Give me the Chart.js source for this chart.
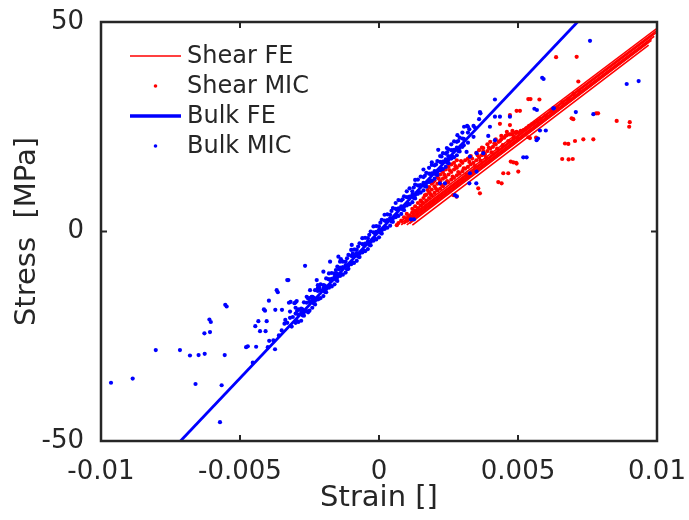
<!DOCTYPE html>
<html>
<head>
	<title>Stress vs Strain</title>
	<script src="https://cdn.jsdelivr.net/npm/chart.js"></script>
	<style>
		body{
			margin: 0;
			background: #ffffff;
		}
		#wrap{
			width: 689px;
			height: 520px;
		}
	</style>
</head>
<body>
	<div id="wrap">
		<canvas id="chart1"></canvas>
	</div>
	<script>
		// axis ticks
		var strainTicks = [-0.01, -0.005, 0, 0.005, 0.01];
		var stressTicks = [-50, 0, 50];
		var legendLabels = ['Shear FE', 'Shear MIC', 'Bulk FE', 'Bulk MIC'];

		// FE fits, [strain, stress] end points
		var bulkFe = [[-0.00714, -50], [0.00714, 50]];
		var shearFe = [
			[[0.0007, 2.0], [0.0100, 48.5]],
			[[0.0008, 2.0], [0.0100, 48.0]],
			[[0.0009, 2.4], [0.0100, 47.6]],
			[[0.0008, 1.6], [0.0099, 47.2]],
			[[0.0009, 1.8], [0.0099, 46.6]],
			[[0.0010, 2.2], [0.0098, 46.0]],
			[[0.0010, 1.6], [0.0098, 45.6]],
			[[0.0011, 1.9], [0.0097, 45.2]],
			[[0.0011, 2.4], [0.0096, 44.8]],
			[[0.0012, 1.5], [0.0097, 44.5]]
		];

		// MIC measurements, [strain, stress]
		var bulkMic = [
			[-0.00964,-36.1],[-0.00886,-35.1],[-0.00803,-28.3],[-0.00716,-28.3],[-0.0068,-29.6],[-0.00649,-29.5],
			[-0.00627,-29.2],[-0.0066,-36.4],[-0.00566,-36.7],[-0.00572,-45.5],[-0.00555,-29.5],[-0.00628,-24.3],
			[-0.00608,-24.0],[-0.00605,-21.6],[-0.0061,-21.0],[-0.00553,-17.5],[-0.00548,-17.9],[-0.00478,-27.6],
			[-0.00472,-27.4],[-0.00442,-27.5],[-0.00454,-31.3],[-0.00445,-22.6],[-0.00434,-21.4],[-0.00428,-23.8],
			[-0.00408,-23.8],[-0.00404,-21.4],[-0.00414,-18.6],[-0.0041,-18.9],[-0.00396,-16.5],[-0.00373,-18.7],
			[-0.00395,-26.1],[-0.00374,-28.1],[-0.00368,-14.0],[-0.00364,-14.5],[-0.0033,-11.6],[-0.00326,-11.6],
			[-0.00266,-8.2],[-0.00176,-7.2],[-0.00349,-18.7],[-0.00337,-21.1],[-0.0032,-19.1],[-0.00324,-17.0],
			[-0.00318,-16.8],[-0.00314,-22.7],[-0.00304,-17.1],[-0.003,-16.9],[-0.00296,-16.6],[-0.00248,-14.0],
			[-0.00242,-15.6],[-0.00224,-11.6],[-0.0022,-13.5],[-0.002,-9.6],[-0.00186,-13.2],[-0.00181,-11.4],
			[-0.00152,-10.0],[-0.00144,-9.0],[-0.00146,-6.0],[-0.00137,-6.6],[-0.00098,-3.2],[-0.00094,-5.2],
			[-0.00086,-4.3],
			[-0.0040,-27.6],[-0.0038,-26.0],[-0.0036,-24.8],[-0.0035,-23.6],[-0.0034,-22.0],[-0.0033,-21.8],
			[-0.0032,-20.6],[-0.0031,-20.4],
			[-0.0030,-19.6],[-0.0030,-21.8],[-0.0030,-18.2],[-0.0029,-21.6],[-0.0029,-19.9],[-0.0029,-18.6],
			[-0.0028,-19.2],[-0.0028,-21.3],[-0.0028,-18.4],[-0.0027,-16.9],[-0.0027,-19.3],[-0.0027,-20.1],
			[-0.0026,-17.0],[-0.0026,-19.0],[-0.0026,-15.6],[-0.0025,-18.9],[-0.0025,-16.8],[-0.0025,-15.9],
			[-0.0024,-16.4],[-0.0024,-18.2],[-0.0024,-15.6],[-0.0023,-14.0],[-0.0023,-16.5],[-0.0023,-17.4],
			[-0.0022,-14.2],[-0.0022,-16.2],[-0.0022,-12.8],[-0.0021,-15.9],[-0.0021,-14.1],[-0.0021,-12.6],
			[-0.0020,-13.6],[-0.0020,-15.4],[-0.0020,-12.8],[-0.0019,-11.2],[-0.0019,-13.7],[-0.0019,-14.5],
			[-0.0018,-11.4],[-0.0018,-13.4],[-0.0018,-10.0],[-0.0017,-13.1],[-0.0017,-11.3],[-0.0017,-9.9],
			[-0.0016,-10.8],[-0.0016,-12.6],[-0.0016,-10.0],[-0.0015,-8.4],[-0.0015,-10.9],[-0.0015,-11.8],
			[-0.0014,-8.6],[-0.0014,-10.6],[-0.0014,-7.2],[-0.0013,-10.3],[-0.0013,-8.5],[-0.0013,-7.2],
			[-0.0012,-8.0],[-0.0012,-9.8],[-0.0012,-7.2],[-0.0011,-5.6],[-0.0011,-8.1],[-0.0011,-8.9],
			[-0.0010,-5.8],[-0.0010,-7.8],[-0.0010,-4.4],[-0.0009,-7.5],[-0.0009,-5.7],[-0.0009,-4.3],
			[-0.0008,-5.2],[-0.0008,-7.0],[-0.0008,-4.4],[-0.0007,-2.8],[-0.0007,-5.3],[-0.0007,-6.1],
			[-0.0006,-3.0],[-0.0006,-5.0],[-0.0006,-1.6],[-0.0005,-4.7],[-0.0005,-2.9],[-0.0005,-1.5],
			[-0.0004,-2.4],[-0.0004,-4.2],[-0.0004,-1.6],[-0.0003,0.0],[-0.0003,-2.5],[-0.0003,-3.3],
			[-0.0002,-0.2],[-0.0002,-2.2],[-0.0002,1.2],[-0.0001,-1.9],[-0.0001,-0.1],[-0.0001,1.3],
			[0.0000,0.4],[0.0000,-1.4],[0.0000,1.2],[0.0001,2.8],[0.0001,0.3],[0.0001,-0.5],
			[0.0002,2.6],[0.0002,0.6],[0.0002,4.0],[0.0003,0.9],[0.0003,2.7],[0.0003,4.1],
			[0.0004,3.2],[0.0004,1.4],[0.0004,4.0],[0.0005,5.6],[0.0005,3.1],[0.0005,2.3],
			[0.0006,5.4],[0.0006,3.4],[0.0006,6.8],[0.0007,3.7],[0.0007,5.5],[0.0007,7.5],
			[0.0008,6.0],[0.0008,4.2],[0.0008,7.4],[0.0009,8.4],[0.0009,5.9],[0.0009,5.1],
			[0.0010,8.2],[0.0010,6.2],[0.0010,9.6],[0.0011,6.5],[0.0011,8.3],[0.0011,10.3],
			[0.0012,8.8],[0.0012,7.0],[0.0012,9.6],[0.0013,11.2],[0.0013,8.7],[0.0013,7.9],
			[0.0014,11.0],[0.0014,9.0],[0.0014,12.4],[0.0015,9.3],[0.0015,11.1],[0.0015,13.1],
			[0.0016,11.6],[0.0016,9.8],[0.0016,13.0],[0.0017,14.0],[0.0017,11.5],[0.0017,10.7],
			[0.0018,13.8],[0.0018,11.8],[0.0018,15.2],[0.0019,12.1],[0.0019,13.9],[0.0019,15.9],
			[0.0020,14.4],[0.0020,12.6],[0.0020,15.8],[0.0021,16.8],[0.0021,14.3],[0.0021,13.5],
			[0.0022,16.6],[0.0022,14.6],[0.0022,18.0],[0.0023,14.9],[0.0023,16.7],[0.0023,18.7],
			[0.0024,17.2],[0.0024,15.4],[0.0024,18.6],[0.0025,19.6],[0.0025,17.1],[0.0025,16.3],
			[0.0026,19.4],[0.0026,17.4],[0.0026,20.8],[0.0027,17.7],[0.0027,19.5],[0.0027,21.5],
			[0.0028,20.0],[0.0028,18.2],[0.0028,21.4],[0.0029,22.4],[0.0029,19.9],[0.0029,19.1],
			[0.0030,22.2],[0.0030,20.2],[0.0030,23.6],[0.0032,23.6],[0.0032,21.2],[0.0032,25.0],
			[0.0034,25.2],[0.0034,22.6],[0.0036,26.8],
			[-0.00295,-19.0],[-0.00295,-21.4],[-0.00275,-18.6],[-0.00275,-20.0],[-0.00255,-16.0],[-0.00255,-19.3],
			[-0.00235,-15.8],[-0.00235,-17.1],[-0.00215,-13.4],[-0.00215,-16.0],[-0.00195,-12.9],[-0.00195,-14.4],
			[-0.00175,-11.6],[-0.00175,-13.0],[-0.00155,-9.2],[-0.00155,-11.5],[-0.00135,-8.8],[-0.00135,-10.2],
			[-0.00115,-6.4],[-0.00115,-9.0],[-0.00095,-5.9],[-0.00095,-7.4],[-0.00075,-3.6],[-0.00075,-6.0],
			[-0.00055,-3.2],[-0.00055,-4.6],[-0.00035,-0.8],[-0.00035,-3.2],[-0.00015,-0.4],[-0.00015,-1.7],
			[0.00005,2.1],[0.00005,-0.3],[0.00025,2.5],[0.00025,1.0],[0.00045,4.9],[0.00045,2.4],
			[0.00065,5.2],[0.00065,3.9],[0.00085,7.7],[0.00085,5.3],[0.00105,8.1],[0.00105,6.6],
			[0.00125,10.5],[0.00125,8.0],[0.00145,10.9],[0.00145,9.4],[0.00165,13.3],[0.00165,10.8],
			[0.00185,13.7],[0.00185,12.2],[0.00205,16.0],[0.00205,13.6],[0.00225,16.4],[0.00225,15.0],
			[0.00245,18.9],[0.00245,16.4],[0.00265,19.3],[0.00265,17.8],[0.00285,21.6],[0.00285,19.2],
			[0.00305,22.1],[0.00305,20.6],[0.00325,24.4],[0.00345,24.8],
			[0.00759,45.5],[0.00587,36.7],[0.00592,36.4],[0.00891,35.2],[0.00934,35.9],[0.00417,31.5],
			[0.00363,28.5],[0.00365,28.2],[0.00627,29.4],[0.00629,29.4],[0.00559,29.3],[0.00568,29.0],
			[0.00708,28.5],[0.00771,28.0],[0.00417,27.4],[0.00435,27.4],[0.00471,27.4],[0.00306,25.0],
			[0.00317,25.2],[0.00282,23.0],[0.00399,25.0],[0.00393,22.8],[0.00417,21.8],[0.00579,24.1],
			[0.0060,24.1],[0.00567,21.8],[0.00572,22.2],[0.00519,17.7],[0.00531,17.7],[0.00213,19.5],
			[0.00244,19.9],[0.00225,17.9],[0.00249,18.0],[0.00315,19.0],[0.00327,17.9],[0.00351,18.7],
			[0.00375,18.7],[0.00327,13.9],[0.00351,14.3],[0.00325,11.5],[0.0035,11.5],[0.00273,8.7],
			[0.0028,8.4],[0.00115,2.9],[0.00126,2.9],[0.00219,11.5],[0.00237,11.5],[0.0019,16.5],
			[0.0016,14.8],[0.0013,12.3]
		];

		var shearMic = [
			[0.00064,1.5],[0.0007,2.0],[0.0008,2.6],[0.0009,3.4],[0.0010,3.0],[0.0010,4.2],[0.0011,3.8],
			[0.0012,4.6],[0.0012,5.4],[0.0013,5.0],[0.0013,6.0],[0.0014,5.6],[0.0014,6.8],[0.0015,6.2],
			[0.0015,7.4],[0.0016,6.8],[0.0016,8.0],[0.0017,7.4],[0.0017,8.8],[0.0018,8.0],[0.0018,9.4],
			[0.0018,10.6],[0.0019,8.6],[0.0019,10.0],[0.0019,11.4],[0.0020,9.2],[0.0020,10.8],[0.0020,12.2],
			[0.0021,9.8],[0.0021,11.4],[0.0021,13.0],[0.0022,10.2],[0.0022,12.0],[0.0022,13.6],[0.0023,10.8],
			[0.0023,12.6],[0.0023,14.2],[0.0024,11.4],[0.0024,13.0],[0.0024,14.8],[0.0025,11.8],[0.0025,13.6],
			[0.0025,15.4],[0.0026,12.4],[0.0026,14.2],[0.0026,16.0],[0.0027,12.8],[0.0027,14.8],[0.0027,16.4],
			[0.0028,13.4],[0.0028,15.2],[0.0028,17.0],[0.0029,13.8],[0.0029,15.8],[0.0030,14.4],[0.0030,16.4],
			[0.0030,12.4],[0.0031,15.0],[0.0031,17.0],[0.0032,15.4],[0.0032,17.4],[0.0032,13.0],[0.0033,16.0],
			[0.0033,18.0],[0.0034,16.4],[0.0034,14.2],[0.0035,17.0],[0.0035,18.8],[0.0036,17.6],[0.0036,19.4],
			[0.0037,18.2],[0.0037,20.0],[0.0038,18.6],[0.0039,19.2],[0.0039,20.8],[0.0040,19.8],[0.0040,21.4],
			[0.0041,20.2],[0.0042,20.8],[0.0042,22.0],[0.0043,21.4],[0.0044,22.0],[0.0044,22.8],[0.0045,22.4],
			[0.0046,23.0],[0.0046,23.8],[0.0047,23.2],[0.0048,24.0],[0.0048,23.2],[0.0049,23.6],
			[0.0050,23.6],[0.0050,22.2],[0.0051,24.0],[0.0052,24.2],[0.0053,24.6],[0.0054,25.2],[0.0055,25.6],
			[0.0056,26.0],[0.0057,26.4],[0.0058,26.8],[0.0060,27.6],[0.0062,28.8],[0.0064,29.6],[0.0066,30.8],
			[0.0068,31.6],[0.0070,32.8],[0.0072,33.6],
			[0.00155,7.0],[0.00165,8.6],[0.00175,9.9],[0.00185,8.9],[0.00195,11.8],[0.00205,10.2],[0.00215,12.6],
			[0.00225,11.1],[0.00235,13.5],[0.00245,12.0],[0.00255,14.6],[0.00265,13.1],[0.00275,15.6],
			[0.00285,14.2],[0.00295,16.8],[0.00305,15.1],[0.00315,13.6],[0.00325,16.6],[0.00335,17.4],
			[0.00345,15.6],[0.00355,18.2],[0.00365,16.9],[0.00375,19.1],[0.00385,17.6],[0.00395,20.0],
			[0.00405,18.9],[0.00415,21.0],[0.00425,19.8],[0.00435,21.6],[0.00445,20.6],[0.00455,22.8],
			[0.00465,21.6],[0.00475,23.2],[0.00485,22.4],[0.00495,23.8],
			[0.00637,41.6],[0.00711,41.7],[0.00717,35.8],[0.00537,31.6],[0.00545,31.6],[0.00577,31.5],
			[0.00495,28.8],[0.00507,28.8],[0.00471,27.8],[0.00693,27.0],[0.00699,26.8],[0.00781,28.2],
			[0.00788,28.2],[0.00855,26.4],[0.00902,26.1],[0.0090,25.0],[0.00705,21.6],[0.00735,22.0],
			[0.00771,22.0],[0.00669,21.0],[0.00681,20.9],[0.00659,17.3],[0.00682,17.2],[0.00697,17.3],
			[0.00474,16.7],[0.00493,16.4],[0.00501,14.3],[0.00447,13.9],[0.00465,13.9],[0.00429,11.8],
			[0.00441,11.5],[0.00483,16.5],[0.00495,16.2],[0.00357,10.3],[0.00363,9.1],[0.00267,8.7],
			[0.00279,8.3],[0.00537,22.5],[0.00543,22.3],[0.00565,22.4],[0.00435,25.7],[0.00471,25.4],
			[0.00375,19.9],[0.00381,18.3]
		];

		var red = '#ff0000';
		var blue = '#0000ff';
		var axisColor = '#262626';
		var fontName = '"DejaVu Sans", sans-serif';

		function toPoints(list) {
			return list.map(function(p) { return {x: p[0], y: p[1]}; });
		}

		var datasets = [];
		shearFe.forEach(function(seg) {
			datasets.push({
				label: 'Shear FE',
				data: toPoints(seg),
				showLine: true,
				borderColor: red,
				borderWidth: 1.6,
				pointRadius: 0,
				order: 4
			});
		});
		datasets.push({
			label: 'Shear MIC',
			data: toPoints(shearMic),
			backgroundColor: red,
			borderWidth: 0,
			pointRadius: 2.1,
			order: 3
		});
		datasets.push({
			label: 'Bulk FE',
			data: toPoints(bulkFe),
			showLine: true,
			borderColor: blue,
			borderWidth: 2.8,
			pointRadius: 0,
			order: 2
		});
		datasets.push({
			label: 'Bulk MIC',
			data: toPoints(bulkMic),
			backgroundColor: blue,
			borderWidth: 0,
			pointRadius: 2.1,
			order: 1
		});

		// MATLAB style box with inward ticks
		var boxPlugin = {
			id: 'box',
			afterDatasetsDraw: function(chart) {
				var ctx = chart.ctx;
				var a = chart.chartArea;
				var xs = chart.scales.x, ys = chart.scales.y;
				var tl = 6;
				ctx.save();
				ctx.strokeStyle = axisColor;
				ctx.lineWidth = 2;
				ctx.beginPath();
				strainTicks.forEach(function(v) {
					var px = xs.getPixelForValue(v);
					ctx.moveTo(px, a.bottom); ctx.lineTo(px, a.bottom - tl);
					ctx.moveTo(px, a.top); ctx.lineTo(px, a.top + tl);
				});
				stressTicks.forEach(function(v) {
					var py = ys.getPixelForValue(v);
					ctx.moveTo(a.left, py); ctx.lineTo(a.left + tl, py);
					ctx.moveTo(a.right, py); ctx.lineTo(a.right - tl, py);
				});
				ctx.stroke();
				ctx.lineWidth = 2.5;
				ctx.strokeRect(a.left, a.top, a.right - a.left, a.bottom - a.top);
				ctx.restore();
			}
		};

		// legend inside the axes, top left, no box
		var legendPlugin = {
			id: 'insideLegend',
			afterDraw: function(chart) {
				var ctx = chart.ctx;
				var a = chart.chartArea;
				var x0 = a.left + 29, len = 51, tx = a.left + 86;
				var y0 = a.top + 34, dy = 30;
				ctx.save();
				ctx.font = '24px ' + fontName;
				ctx.textBaseline = 'middle';
				legendLabels.forEach(function(lab, i) {
					var ds = chart.data.datasets.find(function(d) { return d.label === lab; });
					var y = y0 + i * dy;
					if (ds.showLine) {
						ctx.strokeStyle = ds.borderColor;
						ctx.lineWidth = lab === 'Bulk FE' ? 3.5 : 1.5;
						ctx.beginPath();
						ctx.moveTo(x0, y);
						ctx.lineTo(x0 + len, y);
						ctx.stroke();
					} else {
						ctx.fillStyle = ds.backgroundColor;
						ctx.beginPath();
						ctx.arc(x0 + len / 2, y, 1.8, 0, Math.PI * 2);
						ctx.fill();
					}
					ctx.fillStyle = axisColor;
					ctx.fillText(lab, tx, y + 1);
				});
				ctx.restore();
			}
		};

		var ctx = document.getElementById('chart1').getContext('2d');
		var myChart = new Chart(ctx, {
			type: 'scatter',
			data: {datasets: datasets},
			options: {
				responsive: true,
				maintainAspectRatio: false,
				animation: false,
				layout: {padding: {top: 22, right: 32, left: 0, bottom: 0}},
				plugins: {
					legend: {display: false},
					tooltip: {enabled: false}
				},
				scales: {
					x: {
						type: 'linear',
						min: -0.01,
						max: 0.01,
						grid: {display: false},
						border: {display: false},
						afterFit: function(s) {
							s.height = 79;
							s.paddingLeft = 0;
							s.paddingRight = 0;
						},
						afterBuildTicks: function(s) {
							s.ticks = strainTicks.map(function(v) { return {value: v}; });
						},
						ticks: {
							padding: 8,
							color: axisColor,
							font: {family: fontName, size: 26},
							callback: function(v) { return String(Number(v.toFixed(4))); }
						},
						title: {
							display: true,
							text: 'Strain []',
							color: axisColor,
							font: {family: fontName, size: 29},
							padding: {top: 0, bottom: 4}
						}
					},
					y: {
						type: 'linear',
						min: -50,
						max: 50,
						grid: {display: false},
						border: {display: false},
						afterFit: function(s) {
							s.width = 101;
							s.paddingTop = 0;
							s.paddingBottom = 0;
						},
						afterBuildTicks: function(s) {
							s.ticks = stressTicks.map(function(v) { return {value: v}; });
						},
						ticks: {
							padding: 9,
							color: axisColor,
							font: {family: fontName, size: 26}
						},
						title: {
							display: true,
							text: 'Stress  [MPa]',
							color: axisColor,
							font: {family: fontName, size: 29},
							padding: {top: 10, bottom: 0}
						}
					}
				}
			},
			plugins: [boxPlugin, legendPlugin]
		});
	</script>
</body>
</html>
